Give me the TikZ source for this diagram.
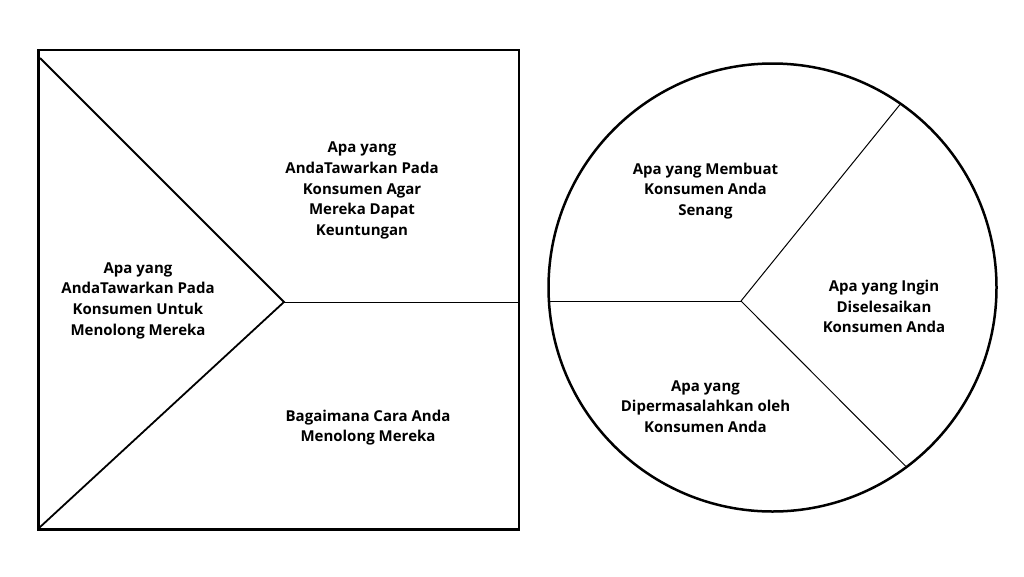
\documentclass[tikz,border=0pt]{standalone}
\usepackage{fontspec}
\setmainfont{Open Sans}
\usepackage{tikz}
\usetikzlibrary{positioning}
\tikzset{
  boxtext/.style={align=center, inner sep=0pt, font=\fontsize{15}{20.7}\selectfont\bfseries},
  thickline/.style={line width=2.5pt},
  midline/.style={line width=1.8pt},
  thinline/.style={line width=1pt}
}

\begin{document}
\begin{tikzpicture}[x=1pt,y=-1pt]
\useasboundingbox (0,0) rectangle (1024,576);

% ================= Square =================
\draw[thickline] (38.5,50) rectangle (519,529.5);
\coordinate (apex) at (284,302);
\coordinate (sqtl) at (40,58);
\coordinate (sqbl) at (39,528);
\coordinate (sqr) at (518,302);
\draw[midline, line join=miter] (sqtl) -- (apex) -- (sqbl);
\draw[thinline] (apex) -- (sqr);

\node[boxtext] (offerhelp) at (138,300.5)
  {Apa yang\\AndaTawarkan Pada\\Konsumen Untuk\\Menolong Mereka};
\node[boxtext] (offergain) at (362,190.5)
  {Apa yang\\AndaTawarkan Pada\\Konsumen Agar\\Mereka Dapat\\Keuntungan};
\node[boxtext] (howhelp) at (368,427.5)
  {Bagaimana Cara Anda\\Menolong Mereka};

% ================= Circle =================
\draw[thickline] (772.5,287.5) circle (224);
\coordinate (hub) at (741,301);
\coordinate (cleft) at (548.5,301);
\coordinate (cup) at (900,104.5);
\coordinate (cdown) at (905.5,466);
\draw[thinline] (cleft) -- (hub);
\draw[thinline] (hub) -- (cup);
\draw[thinline] (hub) -- (cdown);

\node[boxtext] (happy) at (705.5,191)
  {Apa yang Membuat\\Konsumen Anda\\Senang};
\node[boxtext] (solve) at (884,306.5)
  {Apa yang Ingin\\Diselesaikan\\Konsumen Anda};
\node[boxtext] (problem) at (705.5,406.5)
  {Apa yang\\Dipermasalahkan oleh\\Konsumen Anda};
\end{tikzpicture}
\end{document}
